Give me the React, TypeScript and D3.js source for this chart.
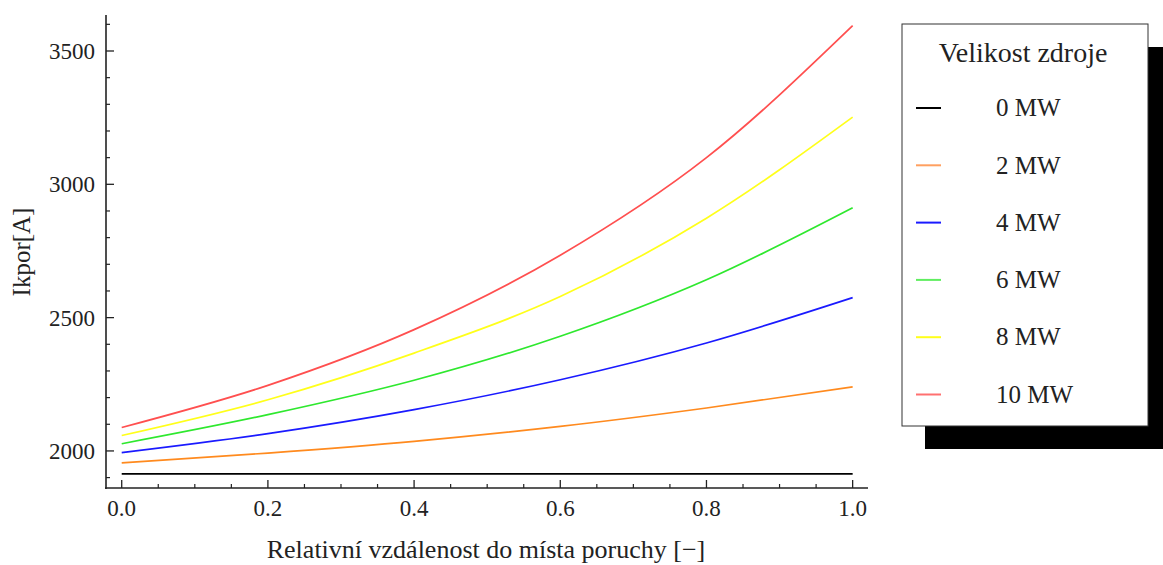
import React from "react";
import * as d3 from "d3";

const xValues = [0, 0.2, 0.4, 0.6, 0.8, 1.0];
const mw0 = [1914, 1914, 1914, 1914, 1914, 1914];
const mw2 = [1955, 1992, 2036, 2092, 2161, 2240];
const mw4 = [1994, 2065, 2155, 2267, 2405, 2575];
const mw6 = [2027, 2136, 2265, 2430, 2642, 2912];
const mw8 = [2058, 2192, 2367, 2579, 2873, 3252];
const mw10 = [2088, 2246, 2455, 2734, 3100, 3595];
const seriesLabels = ["0 MW", "2 MW", "4 MW", "6 MW", "8 MW", "10 MW"];
const seriesColors = ["#000000", "#ff8a1e", "#1a1aff", "#2ee82e", "#ffff1a", "#ff4f4f"];
const legendColors = ["#000000", "#ffa060", "#1a1aff", "#60ee60", "#ffff1a", "#ff7070"];
const yMajorTicks = [2000, 2500, 3000, 3500];
const xMajorTicks = [0, 0.2, 0.4, 0.6, 0.8, 1.0];
const legendTitle = "Velikost zdroje";
const xTitle = "Relativní vzdálenost do místa poruchy [\u2212]";
const yTitle = "Ikpor[A]";

const W = 1163;
const H = 565;
const FONT = "'Liberation Serif', 'Times New Roman', serif";

export default function App() {
  const series = [mw0, mw2, mw4, mw6, mw8, mw10];
  const x = d3.scaleLinear().domain([-0.0215, 1.021]).range([106, 868]);
  const y = d3.scaleLinear().domain([1861, 3635]).range([488, 15]);
  const xMinor = d3.range(0, 1.0001, 0.05).filter((v) => !xMajorTicks.some((m) => Math.abs(m - v) < 1e-6));
  const yMinor = d3.range(1900, 3601, 100).filter((v) => v % 500 !== 0);
  const line = d3
    .line<number>()
    .x((_, i) => x(xValues[i]))
    .y((d) => y(d))
    .curve(d3.curveMonotoneX);

  const lgX = 902, lgY = 24, lgW = 246, lgH = 402, shadow = 23;
  const rowY0 = 108, rowStep = 57.3;

  return (
    <svg width={W} height={H} style={{ position: "absolute", left: 0, top: 0, background: "#fff" }} fontFamily={FONT}>
      {series.map((s, i) => (
        <path key={i} d={line(s) || ""} fill="none" stroke={seriesColors[i]} strokeWidth={1.7} />
      ))}
      <line x1={106} x2={106} y1={15} y2={489} stroke="#222" strokeWidth={1.6} />
      <line x1={105} x2={868} y1={488} y2={488} stroke="#222" strokeWidth={1.6} />
      {yMajorTicks.map((t) => (
        <g key={"ym" + t}>
          <line x1={106} x2={114} y1={y(t)} y2={y(t)} stroke="#222" strokeWidth={1.3} />
          <text x={95} y={y(t)} dy="0.35em" textAnchor="end" fontSize={23} fill="#222">
            {t}
          </text>
        </g>
      ))}
      {yMinor.map((t) => (
        <line key={"yn" + t} x1={106} x2={110} y1={y(t)} y2={y(t)} stroke="#222" strokeWidth={1.2} />
      ))}
      {xMajorTicks.map((t) => (
        <g key={"xm" + t}>
          <line x1={x(t)} x2={x(t)} y1={488} y2={480} stroke="#222" strokeWidth={1.3} />
          <text x={x(t)} y={516} textAnchor="middle" fontSize={23} fill="#222">
            {t.toFixed(1)}
          </text>
        </g>
      ))}
      {xMinor.map((t) => (
        <line key={"xn" + t} x1={x(t)} x2={x(t)} y1={488} y2={484} stroke="#222" strokeWidth={1.2} />
      ))}
      <text x={486} y={558} textAnchor="middle" fontSize={26} fill="#222">
        {xTitle}
      </text>
      <text transform="translate(30,252) rotate(-90)" textAnchor="middle" fontSize={25} fill="#222">
        {yTitle}
      </text>
      <rect x={lgX + shadow} y={lgY + shadow} width={lgW} height={lgH} fill="#000" />
      <rect x={lgX} y={lgY} width={lgW} height={lgH} fill="#fff" stroke="#333" strokeWidth={1} />
      <text x={1023} y={62} textAnchor="middle" fontSize={28} fill="#222">
        {legendTitle}
      </text>
      {seriesLabels.map((lab, i) => (
        <g key={lab}>
          <line x1={916} x2={941} y1={rowY0 + i * rowStep} y2={rowY0 + i * rowStep} stroke={legendColors[i]} strokeWidth={2} />
          <text x={996} y={rowY0 + i * rowStep} dy="0.33em" fontSize={25} fill="#222">
            {lab}
          </text>
        </g>
      ))}
    </svg>
  );
}
